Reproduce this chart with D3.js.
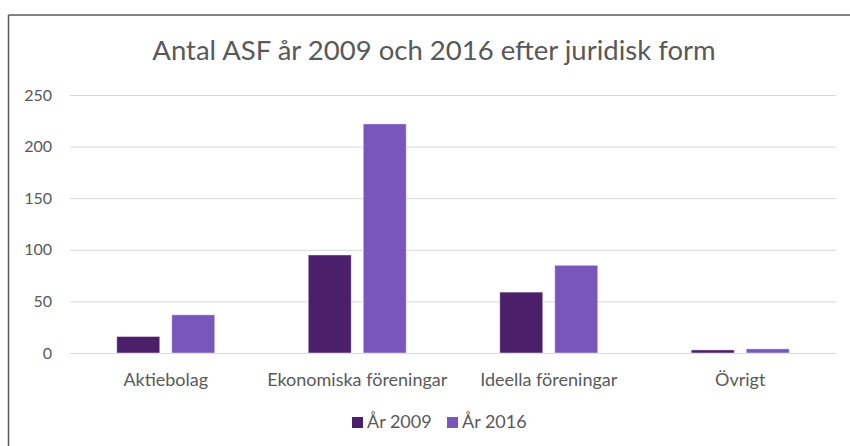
<!DOCTYPE html>
<html>
<head>
<meta charset="utf-8">
<script src="https://cdn.jsdelivr.net/npm/d3@7"></script>
<style>
  html, body { margin: 0; padding: 0; background: #fff; }
  svg { display: block; }
  text { font-family: Lato, "Open Sans", sans-serif; fill: #595959; }
</style>
</head>
<body>
<svg id="chart" width="850" height="446"></svg>
<script>
const title = "Antal ASF år 2009 och 2016 efter juridisk form";
const categories = ["Aktiebolag", "Ekonomiska föreningar", "Ideella föreningar", "Övrigt"];
const seriesNames = ["År 2009", "År 2016"];
const values2009 = [16, 95, 59, 3];
const values2016 = [37, 222, 85, 4];
const yTicks = [0, 50, 100, 150, 200, 250];
const colors = ["#4b1f69", "#7856bb"];

const svg = d3.select("#chart");
const W = 850, H = 446;
const plot = { left: 70, right: 836, top: 95, bottom: 353 };
const FONT = "Lato, 'Open Sans', sans-serif";

// chart border (top and left visible)
svg.append("line").attr("x1", 8.5).attr("x2", W).attr("y1", 15).attr("y2", 15)
  .attr("stroke", "#595959").attr("stroke-width", 1.5);
svg.append("line").attr("x1", 8.5).attr("x2", 8.5).attr("y1", 15).attr("y2", H)
  .attr("stroke", "#595959").attr("stroke-width", 1.5);

svg.append("text").attr("x", 434).attr("y", 59.5).attr("text-anchor", "middle")
  .attr("font-size", 27.5).text(title);

const y = d3.scaleLinear().domain([0, 250]).range([plot.bottom, plot.top]);
const x0 = d3.scaleBand().domain(categories).range([plot.left, plot.right]).padding(0);
const x1 = d3.scaleBand().domain(seriesNames).range([-49, 49]).paddingInner(0.218);

// gridlines + y tick labels
const yAxis = d3.axisLeft(y).tickValues(yTicks).tickSize(-(plot.right - plot.left)).tickPadding(18);
const gy = svg.append("g").attr("transform", `translate(${plot.left},0)`).call(yAxis);
gy.select(".domain").remove();
gy.selectAll(".tick line").attr("stroke", "#d9d9d9").attr("stroke-width", 1);
gy.selectAll(".tick text").attr("font-size", 16).attr("fill", "#595959")
  .style("font-family", FONT);

const data = categories.map((c, i) => ({ cat: c, vals: [values2009[i], values2016[i]] }));

const groups = svg.append("g").selectAll("g").data(data).join("g")
  .attr("transform", d => `translate(${x0(d.cat) + x0.bandwidth() / 2},0)`);
groups.selectAll("rect").data(d => d.vals.map((v, j) => ({ s: seriesNames[j], v, j })))
  .join("rect")
  .attr("x", d => x1(d.s))
  .attr("width", x1.bandwidth())
  .attr("y", d => y(d.v))
  .attr("height", d => y(0) - y(d.v))
  .attr("fill", d => colors[d.j])
  .attr("stroke", "rgba(255,255,255,0.45)")
  .attr("stroke-width", 1);

// x axis labels
const xAxis = d3.axisBottom(x0).tickSize(0).tickPadding(20);
const gx = svg.append("g").attr("transform", `translate(0,${plot.bottom})`).call(xAxis);
gx.select(".domain").remove();
gx.selectAll(".tick text").attr("font-size", 18).attr("fill", "#595959")
  .style("font-family", FONT);

// legend
const legend = svg.append("g").attr("transform", "translate(352,422)");
const legendX = [0, 95];
seriesNames.forEach((s, i) => {
  const g = legend.append("g").attr("transform", `translate(${legendX[i]},0)`);
  g.append("rect").attr("x", 0).attr("y", -5).attr("width", 11).attr("height", 11).attr("fill", colors[i]);
  g.append("text").attr("x", 15).attr("y", 6).attr("font-size", 18).text(s);
});
</script>
</body>
</html>
